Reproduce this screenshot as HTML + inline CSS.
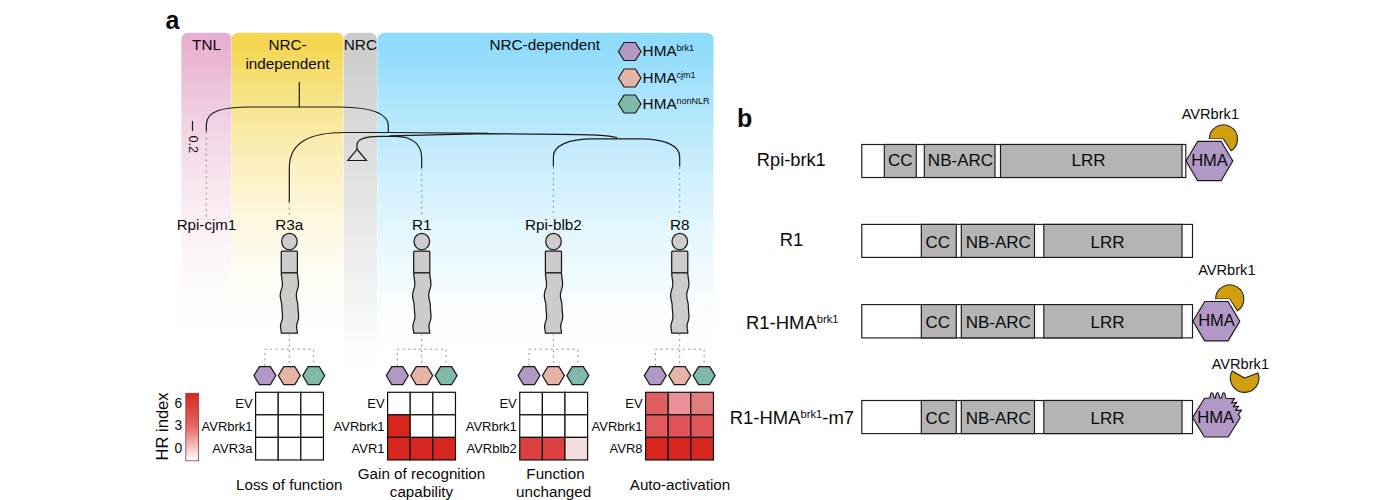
<!DOCTYPE html>
<html><head><meta charset="utf-8"><title>Figure</title>
<style>
html,body{margin:0;padding:0;background:#fff;}
body{width:1400px;height:500px;overflow:hidden;}
svg{display:block;}
text{font-family:"Liberation Sans", sans-serif;fill:#0a0a0a;}
</style></head><body>
<svg width="1400" height="500" viewBox="0 0 1400 500">
<defs>
<linearGradient id="gp" gradientUnits="userSpaceOnUse" x1="0" y1="45" x2="0" y2="352"><stop offset="0.0000" stop-color="#e8b0d0"/><stop offset="0.0625" stop-color="#ebb9d5"/><stop offset="0.1250" stop-color="#edc1da"/><stop offset="0.1875" stop-color="#efc9df"/><stop offset="0.2500" stop-color="#f1d1e3"/><stop offset="0.3125" stop-color="#f4d8e8"/><stop offset="0.3750" stop-color="#f5deeb"/><stop offset="0.4375" stop-color="#f7e4ef"/><stop offset="0.5000" stop-color="#f9e9f2"/><stop offset="0.5625" stop-color="#faeef5"/><stop offset="0.6250" stop-color="#fbf2f7"/><stop offset="0.6875" stop-color="#fcf6fa"/><stop offset="0.7500" stop-color="#fdf9fb"/><stop offset="0.8125" stop-color="#fefbfd"/><stop offset="0.8750" stop-color="#fffdfe"/><stop offset="0.9375" stop-color="#ffffff"/><stop offset="1.0000" stop-color="#ffffff"/></linearGradient>
<linearGradient id="gy" gradientUnits="userSpaceOnUse" x1="0" y1="45" x2="0" y2="352"><stop offset="0.0000" stop-color="#f4d650"/><stop offset="0.0625" stop-color="#f5db65"/><stop offset="0.1250" stop-color="#f7e079"/><stop offset="0.1875" stop-color="#f8e48b"/><stop offset="0.2500" stop-color="#f9e89d"/><stop offset="0.3125" stop-color="#faecac"/><stop offset="0.3750" stop-color="#fbefbb"/><stop offset="0.4375" stop-color="#fcf2c8"/><stop offset="0.5000" stop-color="#fcf5d3"/><stop offset="0.5625" stop-color="#fdf7de"/><stop offset="0.6250" stop-color="#fdf9e6"/><stop offset="0.6875" stop-color="#fefbee"/><stop offset="0.7500" stop-color="#fefcf4"/><stop offset="0.8125" stop-color="#fffef9"/><stop offset="0.8750" stop-color="#fffefc"/><stop offset="0.9375" stop-color="#fffffe"/><stop offset="1.0000" stop-color="#ffffff"/></linearGradient>
<linearGradient id="gg" gradientUnits="userSpaceOnUse" x1="0" y1="40" x2="0" y2="366"><stop offset="0.0000" stop-color="#cbcbcb"/><stop offset="0.0625" stop-color="#cecece"/><stop offset="0.1250" stop-color="#d2d2d2"/><stop offset="0.1875" stop-color="#d5d5d5"/><stop offset="0.2500" stop-color="#d8d8d8"/><stop offset="0.3125" stop-color="#dbdbdb"/><stop offset="0.3750" stop-color="#dedede"/><stop offset="0.4375" stop-color="#e2e2e2"/><stop offset="0.5000" stop-color="#e5e5e5"/><stop offset="0.5625" stop-color="#e8e8e8"/><stop offset="0.6250" stop-color="#ececec"/><stop offset="0.6875" stop-color="#efefef"/><stop offset="0.7500" stop-color="#f2f2f2"/><stop offset="0.8125" stop-color="#f5f5f5"/><stop offset="0.8750" stop-color="#f8f8f8"/><stop offset="0.9375" stop-color="#fcfcfc"/><stop offset="1.0000" stop-color="#ffffff"/></linearGradient>
<linearGradient id="gb" gradientUnits="userSpaceOnUse" x1="0" y1="45" x2="0" y2="352"><stop offset="0.0000" stop-color="#8fdbfb"/><stop offset="0.0625" stop-color="#99defb"/><stop offset="0.1250" stop-color="#a3e2fc"/><stop offset="0.1875" stop-color="#ade5fc"/><stop offset="0.2500" stop-color="#b6e8fc"/><stop offset="0.3125" stop-color="#bfeafd"/><stop offset="0.3750" stop-color="#c8edfd"/><stop offset="0.4375" stop-color="#d0f0fd"/><stop offset="0.5000" stop-color="#d7f2fe"/><stop offset="0.5625" stop-color="#dff5fe"/><stop offset="0.6250" stop-color="#e5f7fe"/><stop offset="0.6875" stop-color="#ebf9fe"/><stop offset="0.7500" stop-color="#f1fafe"/><stop offset="0.8125" stop-color="#f6fcff"/><stop offset="0.8750" stop-color="#fafdff"/><stop offset="0.9375" stop-color="#fdfeff"/><stop offset="1.0000" stop-color="#ffffff"/></linearGradient>
<linearGradient id="cb" x1="0" y1="0" x2="0" y2="1"><stop offset="0" stop-color="#d7261e"/><stop offset="0.5" stop-color="#e46a6a"/><stop offset="1" stop-color="#ffffff"/></linearGradient>
</defs>
<rect width="1400" height="500" fill="#fff"/>

<path d="M181.4,368 L181.4,39.2 A6.5,6.5 0 0 1 187.9,32.7 L225.9,32.7 A5.5,5.5 0 0 1 231.4,38.2 L231.4,368 Z" fill="url(#gp)"/>
<path d="M231.6,368 L231.6,39.2 A6.5,6.5 0 0 1 238.1,32.7 L336.9,32.7 A6.5,6.5 0 0 1 343.4,39.2 L343.4,368 Z" fill="url(#gy)"/>
<path d="M343.8,368 L343.8,39.7 A7,7 0 0 1 350.8,32.7 L370.0,32.7 A7,7 0 0 1 377.0,39.7 L377.0,368 Z" fill="url(#gg)"/>
<path d="M377.4,368 L377.4,39.7 A7,7 0 0 1 384.4,32.7 L707.0,32.7 A6.5,6.5 0 0 1 713.5,39.2 L713.5,368 Z" fill="url(#gb)"/>
<text x="165.6" y="28.8" font-size="25" font-weight="bold">a</text>
<text x="737" y="126.8" font-size="25" font-weight="bold">b</text>
<text x="206.5" y="50" font-size="15.3" text-anchor="middle">TNL</text>
<text x="287.5" y="50" font-size="15.3" text-anchor="middle">NRC-</text>
<text x="287.5" y="69" font-size="15.3" text-anchor="middle">independent</text>
<text x="360.4" y="50" font-size="15.3" text-anchor="middle">NRC</text>
<text x="544.7" y="50" font-size="15.3" text-anchor="middle">NRC-dependent</text>
<polygon points="618.40,51.50 624.05,42.50 635.35,42.50 641.00,51.50 635.35,60.50 624.05,60.50" fill="#b198c5" stroke="#1a1a1a" stroke-width="1.2" stroke-linejoin="miter"/>
<text x="642.6" y="56.3" font-size="15.3">HMA<tspan font-size="9" dy="-5">brk1</tspan></text>
<polygon points="618.40,78.00 624.05,69.00 635.35,69.00 641.00,78.00 635.35,87.00 624.05,87.00" fill="#e6b4a7" stroke="#1a1a1a" stroke-width="1.2" stroke-linejoin="miter"/>
<text x="642.6" y="82.8" font-size="15.3">HMA<tspan font-size="9" dy="-5">cjm1</tspan></text>
<polygon points="618.40,104.00 624.05,95.00 635.35,95.00 641.00,104.00 635.35,113.00 624.05,113.00" fill="#7fb9aa" stroke="#1a1a1a" stroke-width="1.2" stroke-linejoin="miter"/>
<text x="642.6" y="108.8" font-size="15.3">HMA<tspan font-size="9" dy="-5">nonNLR</tspan></text>
<path d="M299.3,82 L299.3,107.3" fill="none" stroke="#1a1a1a" stroke-width="1.2" stroke-linecap="butt"/>
<path d="M206.3,131.5 L206.3,125 C206.3,111 222,107 250,107 L340,107 C372,107.3 388.3,113 388.3,126 L388.3,132.5" fill="none" stroke="#1a1a1a" stroke-width="1.2" stroke-linecap="butt"/>
<path d="M289.3,202 L289.3,168 C289.3,142 310,132.5 345,132.5 L388.3,132.5 L487.7,133.4" fill="none" stroke="#1a1a1a" stroke-width="1.2" stroke-linecap="butt"/>
<path d="M389.5,135.9 L487.7,133.6 L560,134.3 C590,134.3 610,135.5 616.6,137.5 L616.6,138.8" fill="none" stroke="#1a1a1a" stroke-width="1.2" stroke-linecap="butt"/>
<path d="M357,149.3 L357,145 C357,139 365,136.3 380,136.3 L396,136.3 C414,136.3 421.7,146 421.7,158 L421.7,168" fill="none" stroke="#1a1a1a" stroke-width="1.2" stroke-linecap="butt"/>
<path d="M357,149.3 L347.8,160.5 L366.5,160.5 Z" fill="none" stroke="#1a1a1a" stroke-width="1.2" stroke-linecap="butt" stroke-linejoin="miter"/>
<path d="M553.4,166.6 L553.4,157 C553.4,145 570,138.8 592,138.8 L641,138.8 C663,138.8 679.7,145 679.7,157 L679.7,166.6" fill="none" stroke="#1a1a1a" stroke-width="1.2" stroke-linecap="butt"/>

<path d="M192.5,121 L192.5,131" fill="none" stroke="#1a1a1a" stroke-width="1.2"/>
<text transform="translate(189.4,135.5) rotate(90)" font-size="12.7">0.2</text>
<path d="M206.3,132 L206.3,217" fill="none" stroke="#969298" stroke-width="1" stroke-dasharray="2.1,3.4"/>
<path d="M289.3,202 L289.3,217" fill="none" stroke="#969298" stroke-width="1" stroke-dasharray="2.1,3.4"/>
<path d="M421.7,168 L421.7,217" fill="none" stroke="#969298" stroke-width="1" stroke-dasharray="2.1,3.4"/>
<path d="M553.4,167 L553.4,217" fill="none" stroke="#969298" stroke-width="1" stroke-dasharray="2.1,3.4"/>
<path d="M679.7,167 L679.7,217" fill="none" stroke="#969298" stroke-width="1" stroke-dasharray="2.1,3.4"/>
<text x="206.5" y="229.6" font-size="15.1" text-anchor="middle">Rpi-cjm1</text>
<text x="289.3" y="229.6" font-size="15.3" text-anchor="middle">R3a</text>
<text x="421.7" y="229.6" font-size="15.3" text-anchor="middle">R1</text>
<text x="553.4" y="229.6" font-size="15.3" text-anchor="middle">Rpi-blb2</text>
<text x="679.7" y="229.6" font-size="15.3" text-anchor="middle">R8</text>
<ellipse cx="289.40000000000003" cy="241.6" rx="7.8" ry="8.25" fill="#cdcbcb" stroke="#1a1a1a" stroke-width="1.25"/>
<rect x="281.3" y="251.1" width="16.1" height="21.7" rx="1" fill="#cdcbcb" stroke="#1a1a1a" stroke-width="1.25"/>
<path d="M297.40,272.80 L297.45,274.31 L297.59,275.82 L297.79,277.33 L298.02,278.84 L298.24,280.35 L298.40,281.86 L298.49,283.37 L298.47,284.88 L298.27,286.39 L297.93,287.90 L297.50,289.41 L297.05,290.92 L296.66,292.43 L296.40,293.94 L296.30,295.45 L296.38,296.96 L296.60,298.47 L296.92,299.98 L297.28,301.49 L297.60,303.00 L297.82,304.51 L297.90,306.02 L297.93,307.53 L298.02,309.04 L298.16,310.55 L298.31,312.06 L298.45,313.57 L298.55,315.08 L298.60,316.59 L298.53,318.10 L298.25,319.61 L297.81,321.12 L297.31,322.63 L296.89,324.14 L296.64,325.65 L296.62,327.16 L296.79,328.67 L297.06,330.18 L297.30,331.69 L297.40,333.20 L281.30,333.20 L281.20,331.69 L280.96,330.18 L280.69,328.67 L280.52,327.16 L280.54,325.65 L280.79,324.14 L281.21,322.63 L281.71,321.12 L282.15,319.61 L282.43,318.10 L282.50,316.59 L282.45,315.08 L282.35,313.57 L282.21,312.06 L282.06,310.55 L281.92,309.04 L281.83,307.53 L281.80,306.02 L281.72,304.51 L281.50,303.00 L281.18,301.49 L280.82,299.98 L280.50,298.47 L280.28,296.96 L280.20,295.45 L280.30,293.94 L280.56,292.43 L280.95,290.92 L281.40,289.41 L281.83,287.90 L282.17,286.39 L282.37,284.88 L282.39,283.37 L282.30,281.86 L282.14,280.35 L281.92,278.84 L281.69,277.33 L281.49,275.82 L281.35,274.31 L281.30,272.80 Z" fill="#cdcbcb" stroke="#1a1a1a" stroke-width="1.25" stroke-linejoin="round"/>
<path d="M289.3,333.5 L289.3,366 M264.90000000000003,366 L264.90000000000003,349.2 L313.7,349.2 L313.7,366" fill="none" stroke="#969298" stroke-width="1" stroke-dasharray="2.1,3.4"/>
<polygon points="253.90,375.60 259.40,366.60 270.40,366.60 275.90,375.60 270.40,384.60 259.40,384.60" fill="#b198c5" stroke="#1a1a1a" stroke-width="1.2" stroke-linejoin="miter"/>
<polygon points="278.30,375.60 283.80,366.60 294.80,366.60 300.30,375.60 294.80,384.60 283.80,384.60" fill="#e6b4a7" stroke="#1a1a1a" stroke-width="1.2" stroke-linejoin="miter"/>
<polygon points="302.70,375.60 308.20,366.60 319.20,366.60 324.70,375.60 319.20,384.60 308.20,384.60" fill="#7fb9aa" stroke="#1a1a1a" stroke-width="1.2" stroke-linejoin="miter"/>
<ellipse cx="421.8" cy="241.6" rx="7.8" ry="8.25" fill="#cdcbcb" stroke="#1a1a1a" stroke-width="1.25"/>
<rect x="413.7" y="251.1" width="16.1" height="21.7" rx="1" fill="#cdcbcb" stroke="#1a1a1a" stroke-width="1.25"/>
<path d="M429.80,272.80 L429.85,274.31 L429.99,275.82 L430.19,277.33 L430.42,278.84 L430.64,280.35 L430.80,281.86 L430.89,283.37 L430.87,284.88 L430.67,286.39 L430.33,287.90 L429.90,289.41 L429.45,290.92 L429.06,292.43 L428.80,293.94 L428.70,295.45 L428.78,296.96 L429.00,298.47 L429.32,299.98 L429.68,301.49 L430.00,303.00 L430.22,304.51 L430.30,306.02 L430.33,307.53 L430.42,309.04 L430.56,310.55 L430.71,312.06 L430.85,313.57 L430.95,315.08 L431.00,316.59 L430.93,318.10 L430.65,319.61 L430.21,321.12 L429.71,322.63 L429.29,324.14 L429.04,325.65 L429.02,327.16 L429.19,328.67 L429.46,330.18 L429.70,331.69 L429.80,333.20 L413.70,333.20 L413.60,331.69 L413.36,330.18 L413.09,328.67 L412.92,327.16 L412.94,325.65 L413.19,324.14 L413.61,322.63 L414.11,321.12 L414.55,319.61 L414.83,318.10 L414.90,316.59 L414.85,315.08 L414.75,313.57 L414.61,312.06 L414.46,310.55 L414.32,309.04 L414.23,307.53 L414.20,306.02 L414.12,304.51 L413.90,303.00 L413.58,301.49 L413.22,299.98 L412.90,298.47 L412.68,296.96 L412.60,295.45 L412.70,293.94 L412.96,292.43 L413.35,290.92 L413.80,289.41 L414.23,287.90 L414.57,286.39 L414.77,284.88 L414.79,283.37 L414.70,281.86 L414.54,280.35 L414.32,278.84 L414.09,277.33 L413.89,275.82 L413.75,274.31 L413.70,272.80 Z" fill="#cdcbcb" stroke="#1a1a1a" stroke-width="1.25" stroke-linejoin="round"/>
<path d="M421.7,333.5 L421.7,366 M397.3,366 L397.3,349.2 L446.09999999999997,349.2 L446.09999999999997,366" fill="none" stroke="#969298" stroke-width="1" stroke-dasharray="2.1,3.4"/>
<polygon points="386.30,375.60 391.80,366.60 402.80,366.60 408.30,375.60 402.80,384.60 391.80,384.60" fill="#b198c5" stroke="#1a1a1a" stroke-width="1.2" stroke-linejoin="miter"/>
<polygon points="410.70,375.60 416.20,366.60 427.20,366.60 432.70,375.60 427.20,384.60 416.20,384.60" fill="#e6b4a7" stroke="#1a1a1a" stroke-width="1.2" stroke-linejoin="miter"/>
<polygon points="435.10,375.60 440.60,366.60 451.60,366.60 457.10,375.60 451.60,384.60 440.60,384.60" fill="#7fb9aa" stroke="#1a1a1a" stroke-width="1.2" stroke-linejoin="miter"/>
<ellipse cx="553.5" cy="241.6" rx="7.8" ry="8.25" fill="#cdcbcb" stroke="#1a1a1a" stroke-width="1.25"/>
<rect x="545.4" y="251.1" width="16.1" height="21.7" rx="1" fill="#cdcbcb" stroke="#1a1a1a" stroke-width="1.25"/>
<path d="M561.50,272.80 L561.55,274.31 L561.69,275.82 L561.89,277.33 L562.12,278.84 L562.34,280.35 L562.50,281.86 L562.59,283.37 L562.57,284.88 L562.37,286.39 L562.03,287.90 L561.60,289.41 L561.15,290.92 L560.76,292.43 L560.50,293.94 L560.40,295.45 L560.48,296.96 L560.70,298.47 L561.02,299.98 L561.38,301.49 L561.70,303.00 L561.92,304.51 L562.00,306.02 L562.03,307.53 L562.12,309.04 L562.26,310.55 L562.41,312.06 L562.55,313.57 L562.65,315.08 L562.70,316.59 L562.63,318.10 L562.35,319.61 L561.91,321.12 L561.41,322.63 L560.99,324.14 L560.74,325.65 L560.72,327.16 L560.89,328.67 L561.16,330.18 L561.40,331.69 L561.50,333.20 L545.40,333.20 L545.30,331.69 L545.06,330.18 L544.79,328.67 L544.62,327.16 L544.64,325.65 L544.89,324.14 L545.31,322.63 L545.81,321.12 L546.25,319.61 L546.53,318.10 L546.60,316.59 L546.55,315.08 L546.45,313.57 L546.31,312.06 L546.16,310.55 L546.02,309.04 L545.93,307.53 L545.90,306.02 L545.82,304.51 L545.60,303.00 L545.28,301.49 L544.92,299.98 L544.60,298.47 L544.38,296.96 L544.30,295.45 L544.40,293.94 L544.66,292.43 L545.05,290.92 L545.50,289.41 L545.93,287.90 L546.27,286.39 L546.47,284.88 L546.49,283.37 L546.40,281.86 L546.24,280.35 L546.02,278.84 L545.79,277.33 L545.59,275.82 L545.45,274.31 L545.40,272.80 Z" fill="#cdcbcb" stroke="#1a1a1a" stroke-width="1.25" stroke-linejoin="round"/>
<path d="M553.4,333.5 L553.4,366 M529.0,366 L529.0,349.2 L577.8,349.2 L577.8,366" fill="none" stroke="#969298" stroke-width="1" stroke-dasharray="2.1,3.4"/>
<polygon points="518.00,375.60 523.50,366.60 534.50,366.60 540.00,375.60 534.50,384.60 523.50,384.60" fill="#b198c5" stroke="#1a1a1a" stroke-width="1.2" stroke-linejoin="miter"/>
<polygon points="542.40,375.60 547.90,366.60 558.90,366.60 564.40,375.60 558.90,384.60 547.90,384.60" fill="#e6b4a7" stroke="#1a1a1a" stroke-width="1.2" stroke-linejoin="miter"/>
<polygon points="566.80,375.60 572.30,366.60 583.30,366.60 588.80,375.60 583.30,384.60 572.30,384.60" fill="#7fb9aa" stroke="#1a1a1a" stroke-width="1.2" stroke-linejoin="miter"/>
<ellipse cx="679.8000000000001" cy="241.6" rx="7.8" ry="8.25" fill="#cdcbcb" stroke="#1a1a1a" stroke-width="1.25"/>
<rect x="671.7" y="251.1" width="16.1" height="21.7" rx="1" fill="#cdcbcb" stroke="#1a1a1a" stroke-width="1.25"/>
<path d="M687.80,272.80 L687.85,274.31 L687.99,275.82 L688.19,277.33 L688.42,278.84 L688.64,280.35 L688.80,281.86 L688.89,283.37 L688.87,284.88 L688.67,286.39 L688.33,287.90 L687.90,289.41 L687.45,290.92 L687.06,292.43 L686.80,293.94 L686.70,295.45 L686.78,296.96 L687.00,298.47 L687.32,299.98 L687.68,301.49 L688.00,303.00 L688.22,304.51 L688.30,306.02 L688.33,307.53 L688.42,309.04 L688.56,310.55 L688.71,312.06 L688.85,313.57 L688.95,315.08 L689.00,316.59 L688.93,318.10 L688.65,319.61 L688.21,321.12 L687.71,322.63 L687.29,324.14 L687.04,325.65 L687.02,327.16 L687.19,328.67 L687.46,330.18 L687.70,331.69 L687.80,333.20 L671.70,333.20 L671.60,331.69 L671.36,330.18 L671.09,328.67 L670.92,327.16 L670.94,325.65 L671.19,324.14 L671.61,322.63 L672.11,321.12 L672.55,319.61 L672.83,318.10 L672.90,316.59 L672.85,315.08 L672.75,313.57 L672.61,312.06 L672.46,310.55 L672.32,309.04 L672.23,307.53 L672.20,306.02 L672.12,304.51 L671.90,303.00 L671.58,301.49 L671.22,299.98 L670.90,298.47 L670.68,296.96 L670.60,295.45 L670.70,293.94 L670.96,292.43 L671.35,290.92 L671.80,289.41 L672.23,287.90 L672.57,286.39 L672.77,284.88 L672.79,283.37 L672.70,281.86 L672.54,280.35 L672.32,278.84 L672.09,277.33 L671.89,275.82 L671.75,274.31 L671.70,272.80 Z" fill="#cdcbcb" stroke="#1a1a1a" stroke-width="1.25" stroke-linejoin="round"/>
<path d="M679.7,333.5 L679.7,366 M655.3000000000001,366 L655.3000000000001,349.2 L704.1,349.2 L704.1,366" fill="none" stroke="#969298" stroke-width="1" stroke-dasharray="2.1,3.4"/>
<polygon points="644.30,375.60 649.80,366.60 660.80,366.60 666.30,375.60 660.80,384.60 649.80,384.60" fill="#b198c5" stroke="#1a1a1a" stroke-width="1.2" stroke-linejoin="miter"/>
<polygon points="668.70,375.60 674.20,366.60 685.20,366.60 690.70,375.60 685.20,384.60 674.20,384.60" fill="#e6b4a7" stroke="#1a1a1a" stroke-width="1.2" stroke-linejoin="miter"/>
<polygon points="693.10,375.60 698.60,366.60 709.60,366.60 715.10,375.60 709.60,384.60 698.60,384.60" fill="#7fb9aa" stroke="#1a1a1a" stroke-width="1.2" stroke-linejoin="miter"/>
<rect x="255.60" y="392.30" width="22.62" height="22.55" fill="#ffffff" stroke="#111" stroke-width="1.2"/>
<rect x="278.22" y="392.30" width="22.62" height="22.55" fill="#ffffff" stroke="#111" stroke-width="1.2"/>
<rect x="300.84" y="392.30" width="22.62" height="22.55" fill="#ffffff" stroke="#111" stroke-width="1.2"/>
<text x="252.6" y="408.10" font-size="13" text-anchor="end">EV</text>
<rect x="255.60" y="414.85" width="22.62" height="22.55" fill="#ffffff" stroke="#111" stroke-width="1.2"/>
<rect x="278.22" y="414.85" width="22.62" height="22.55" fill="#ffffff" stroke="#111" stroke-width="1.2"/>
<rect x="300.84" y="414.85" width="22.62" height="22.55" fill="#ffffff" stroke="#111" stroke-width="1.2"/>
<text x="252.6" y="430.65" font-size="13" text-anchor="end">AVRbrk1</text>
<rect x="255.60" y="437.40" width="22.62" height="22.55" fill="#ffffff" stroke="#111" stroke-width="1.2"/>
<rect x="278.22" y="437.40" width="22.62" height="22.55" fill="#ffffff" stroke="#111" stroke-width="1.2"/>
<rect x="300.84" y="437.40" width="22.62" height="22.55" fill="#ffffff" stroke="#111" stroke-width="1.2"/>
<text x="252.6" y="453.20" font-size="13" text-anchor="end">AVR3a</text>
<rect x="387.60" y="392.30" width="22.62" height="22.55" fill="#ffffff" stroke="#111" stroke-width="1.2"/>
<rect x="410.22" y="392.30" width="22.62" height="22.55" fill="#ffffff" stroke="#111" stroke-width="1.2"/>
<rect x="432.84" y="392.30" width="22.62" height="22.55" fill="#ffffff" stroke="#111" stroke-width="1.2"/>
<text x="384.6" y="408.10" font-size="13" text-anchor="end">EV</text>
<rect x="387.60" y="414.85" width="22.62" height="22.55" fill="#d7261e" stroke="#111" stroke-width="1.2"/>
<rect x="410.22" y="414.85" width="22.62" height="22.55" fill="#ffffff" stroke="#111" stroke-width="1.2"/>
<rect x="432.84" y="414.85" width="22.62" height="22.55" fill="#ffffff" stroke="#111" stroke-width="1.2"/>
<text x="384.6" y="430.65" font-size="13" text-anchor="end">AVRbrk1</text>
<rect x="387.60" y="437.40" width="22.62" height="22.55" fill="#d7261e" stroke="#111" stroke-width="1.2"/>
<rect x="410.22" y="437.40" width="22.62" height="22.55" fill="#d7261e" stroke="#111" stroke-width="1.2"/>
<rect x="432.84" y="437.40" width="22.62" height="22.55" fill="#d7261e" stroke="#111" stroke-width="1.2"/>
<text x="384.6" y="453.20" font-size="13" text-anchor="end">AVR1</text>
<rect x="519.75" y="392.30" width="22.62" height="22.55" fill="#ffffff" stroke="#111" stroke-width="1.2"/>
<rect x="542.37" y="392.30" width="22.62" height="22.55" fill="#ffffff" stroke="#111" stroke-width="1.2"/>
<rect x="564.99" y="392.30" width="22.62" height="22.55" fill="#ffffff" stroke="#111" stroke-width="1.2"/>
<text x="516.75" y="408.10" font-size="13" text-anchor="end">EV</text>
<rect x="519.75" y="414.85" width="22.62" height="22.55" fill="#ffffff" stroke="#111" stroke-width="1.2"/>
<rect x="542.37" y="414.85" width="22.62" height="22.55" fill="#ffffff" stroke="#111" stroke-width="1.2"/>
<rect x="564.99" y="414.85" width="22.62" height="22.55" fill="#ffffff" stroke="#111" stroke-width="1.2"/>
<text x="516.75" y="430.65" font-size="13" text-anchor="end">AVRbrk1</text>
<rect x="519.75" y="437.40" width="22.62" height="22.55" fill="#dc4040" stroke="#111" stroke-width="1.2"/>
<rect x="542.37" y="437.40" width="22.62" height="22.55" fill="#dc4040" stroke="#111" stroke-width="1.2"/>
<rect x="564.99" y="437.40" width="22.62" height="22.55" fill="#f4dede" stroke="#111" stroke-width="1.2"/>
<text x="516.75" y="453.20" font-size="13" text-anchor="end">AVRblb2</text>
<rect x="645.60" y="392.30" width="22.62" height="22.55" fill="#e06062" stroke="#111" stroke-width="1.2"/>
<rect x="668.22" y="392.30" width="22.62" height="22.55" fill="#e99196" stroke="#111" stroke-width="1.2"/>
<rect x="690.84" y="392.30" width="22.62" height="22.55" fill="#e47b7c" stroke="#111" stroke-width="1.2"/>
<text x="642.6" y="408.10" font-size="13" text-anchor="end">EV</text>
<rect x="645.60" y="414.85" width="22.62" height="22.55" fill="#e05a5c" stroke="#111" stroke-width="1.2"/>
<rect x="668.22" y="414.85" width="22.62" height="22.55" fill="#e05358" stroke="#111" stroke-width="1.2"/>
<rect x="690.84" y="414.85" width="22.62" height="22.55" fill="#e0565a" stroke="#111" stroke-width="1.2"/>
<text x="642.6" y="430.65" font-size="13" text-anchor="end">AVRbrk1</text>
<rect x="645.60" y="437.40" width="22.62" height="22.55" fill="#d7261e" stroke="#111" stroke-width="1.2"/>
<rect x="668.22" y="437.40" width="22.62" height="22.55" fill="#d7261e" stroke="#111" stroke-width="1.2"/>
<rect x="690.84" y="437.40" width="22.62" height="22.55" fill="#d7261e" stroke="#111" stroke-width="1.2"/>
<text x="642.6" y="453.20" font-size="13" text-anchor="end">AVR8</text>
<rect x="185.8" y="393.3" width="12.8" height="67.5" fill="url(#cb)" stroke="#8a3a3a" stroke-width="0.8"/>
<text x="182.2" y="407.6" font-size="13.8" text-anchor="end">6</text>
<text x="182.2" y="430.3" font-size="13.8" text-anchor="end">3</text>
<text x="182.2" y="452.8" font-size="13.8" text-anchor="end">0</text>
<text transform="translate(167.5,460.6) rotate(-90)" font-size="16.6">HR index</text>
<text x="289.2" y="490.4" font-size="15.2" text-anchor="middle">Loss of function</text>
<text x="421.5" y="479" font-size="15.2" text-anchor="middle">Gain of recognition</text>
<text x="421.5" y="497.3" font-size="15.2" text-anchor="middle">capability</text>
<text x="555.5" y="479" font-size="15.2" text-anchor="middle">Function</text>
<text x="553.6" y="497.3" font-size="15.2" text-anchor="middle">unchanged</text>
<text x="680" y="489.9" font-size="15.2" text-anchor="middle">Auto-activation</text>
<rect x="861.8" y="144.5" width="324.0" height="33" fill="#fff" stroke="#1a1a1a" stroke-width="1.15"/>
<rect x="884.3" y="144.5" width="32.0" height="33" fill="#b4b4b4" stroke="#1a1a1a" stroke-width="1.15"/>
<text x="900.3" y="165.70" font-size="17" text-anchor="middle">CC</text>
<rect x="924.3" y="144.5" width="70.70000000000005" height="33" fill="#b4b4b4" stroke="#1a1a1a" stroke-width="1.15"/>
<text x="960.4499999999999" y="165.70" font-size="17" text-anchor="middle">NB-ARC</text>
<rect x="1000.5" y="144.5" width="181.5" height="33" fill="#b4b4b4" stroke="#1a1a1a" stroke-width="1.15"/>
<text x="1088.5" y="165.70" font-size="17" text-anchor="middle">LRR</text>
<rect x="861.8" y="224.4" width="330.70000000000005" height="33" fill="#fff" stroke="#1a1a1a" stroke-width="1.15"/>
<rect x="921.3" y="224.4" width="35.0" height="33" fill="#b4b4b4" stroke="#1a1a1a" stroke-width="1.15"/>
<text x="937.8" y="247.60" font-size="17" text-anchor="middle">CC</text>
<rect x="961.3" y="224.4" width="73.20000000000005" height="33" fill="#b4b4b4" stroke="#1a1a1a" stroke-width="1.15"/>
<text x="998.3" y="247.60" font-size="17" text-anchor="middle">NB-ARC</text>
<rect x="1043.8" y="224.4" width="138.20000000000005" height="33" fill="#b4b4b4" stroke="#1a1a1a" stroke-width="1.15"/>
<text x="1107.5" y="247.60" font-size="17" text-anchor="middle">LRR</text>
<rect x="861.8" y="304.6" width="330.70000000000005" height="33.3" fill="#fff" stroke="#1a1a1a" stroke-width="1.15"/>
<rect x="921.3" y="304.6" width="35.0" height="33.3" fill="#b4b4b4" stroke="#1a1a1a" stroke-width="1.15"/>
<text x="937.8" y="327.95" font-size="17" text-anchor="middle">CC</text>
<rect x="961.3" y="304.6" width="73.20000000000005" height="33.3" fill="#b4b4b4" stroke="#1a1a1a" stroke-width="1.15"/>
<text x="998.3" y="327.95" font-size="17" text-anchor="middle">NB-ARC</text>
<rect x="1043.8" y="304.6" width="138.20000000000005" height="33.3" fill="#b4b4b4" stroke="#1a1a1a" stroke-width="1.15"/>
<text x="1107.5" y="327.95" font-size="17" text-anchor="middle">LRR</text>
<rect x="861.8" y="400.5" width="330.70000000000005" height="33.1" fill="#fff" stroke="#1a1a1a" stroke-width="1.15"/>
<rect x="921.3" y="400.5" width="35.0" height="33.1" fill="#b4b4b4" stroke="#1a1a1a" stroke-width="1.15"/>
<text x="937.8" y="423.75" font-size="17" text-anchor="middle">CC</text>
<rect x="961.3" y="400.5" width="73.20000000000005" height="33.1" fill="#b4b4b4" stroke="#1a1a1a" stroke-width="1.15"/>
<text x="998.3" y="423.75" font-size="17" text-anchor="middle">NB-ARC</text>
<rect x="1043.8" y="400.5" width="138.20000000000005" height="33.1" fill="#b4b4b4" stroke="#1a1a1a" stroke-width="1.15"/>
<text x="1107.5" y="423.75" font-size="17" text-anchor="middle">LRR</text>
<text x="756.8" y="165.8" font-size="18.25">Rpi-brk1</text>
<text x="791.4" y="246.3" font-size="18.4" text-anchor="middle">R1</text>
<text x="746" y="329.3" font-size="18.45">R1-HMA<tspan font-size="11.2" dy="-6.3">brk1</tspan></text>
<text x="729.8" y="424.4" font-size="18.45">R1-HMA<tspan font-size="11.2" dy="-6.3">brk1</tspan><tspan dy="6.3">-m7</tspan></text>
<path d="M1223.40,139.00 L1209.30,139.00 A14.1,14.1 0 1 1 1231.08,150.83 Z" fill="#d39e0d" stroke="#222" stroke-width="1.1" stroke-linejoin="miter"/>
<path d="M1195.70,141.30 L1221.10,141.30 L1232.80,161.00" fill="none" stroke="#fff" stroke-width="4.6" stroke-linejoin="miter"/>
<polygon points="1186.00,161.00 1197.70,141.30 1221.10,141.30 1232.80,161.00 1221.10,180.70 1197.70,180.70" fill="#b198c5" stroke="#1a1a1a" stroke-width="1.2" stroke-linejoin="miter"/>
<text x="1209.5" y="166.2" font-size="16.5" text-anchor="middle">HMA</text>
<text x="1181.7" y="119.3" font-size="14.6">AVRbrk1</text>
<path d="M1229.70,299.00 L1215.60,299.00 A14.1,14.1 0 1 1 1237.38,310.83 Z" fill="#d39e0d" stroke="#222" stroke-width="1.1" stroke-linejoin="miter"/>
<path d="M1202.70,301.50 L1228.10,301.50 L1239.80,321.20" fill="none" stroke="#fff" stroke-width="4.6" stroke-linejoin="miter"/>
<polygon points="1193.00,321.20 1204.70,301.50 1228.10,301.50 1239.80,321.20 1228.10,340.90 1204.70,340.90" fill="#b198c5" stroke="#1a1a1a" stroke-width="1.2" stroke-linejoin="miter"/>
<text x="1216.5" y="326.4" font-size="16.5" text-anchor="middle">HMA</text>
<text x="1198.2" y="274.5" font-size="14.6">AVRbrk1</text>
<path d="M1192.6,417.6 L1204.5,398.2 L1209.5,398.2 L1209.7,398.2 L1210.55,394.6 C1210.80,392.1 1213.00,392.1 1213.25,394.6 L1214.2,398.2 L1215.3,398.2 L1216.15,394.6 C1216.40,392.1 1218.60,392.1 1218.85,394.6 L1219.8,398.2 L1221.4,398.2 L1222.25,394.6 C1222.50,392.1 1224.70,392.1 1224.95,394.6 L1225.9,398.2 L1228.6,398.5 L1234.6,398.6 L1231.4,403 L1236.8,402.4 L1233.3,406.9 L1238.7,406.2 L1235.5,410.4 L1241.6,410.1 L1238.4,414.2 L1240.2,417.8 L1228.2,437 L1204.5,437 Z" fill="#b198c5" stroke="#1a1a1a" stroke-width="1.15" stroke-linejoin="round"/>
<text x="1215.6" y="423.0" font-size="16.6" text-anchor="middle">HMA</text>
<path d="M1244.60,378.10 L1257.95,372.98 A14.3,14.3 0 1 1 1232.22,370.95 Z" fill="#d39e0d" stroke="#222" stroke-width="1.1" stroke-linejoin="miter"/>
<text x="1211.7" y="368.6" font-size="14.6">AVRbrk1</text>
</svg></body></html>
